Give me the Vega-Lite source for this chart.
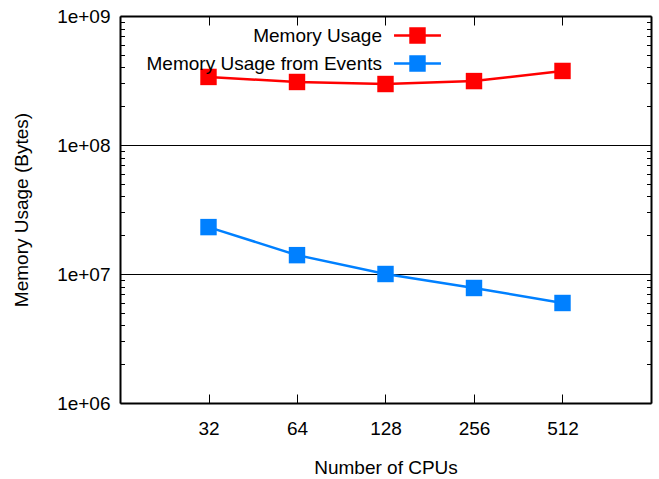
{
  "$schema": "https://vega.github.io/schema/vega-lite/v6.json",
  "width": 531,
  "height": 387,
  "autosize": {"type": "none"},
  "padding": {"left": 120, "top": 16, "right": 8, "bottom": 76},
  "background": "white",
  "config": {
    "view": {"stroke": null},
    "font": "Liberation Sans",
    "axis": {
      "domainColor": "black",
      "domainWidth": 2,
      "tickColor": "black",
      "tickWidth": 1,
      "labelColor": "black",
      "labelFont": "Liberation Sans",
      "labelFontSize": 19,
      "titleFont": "Liberation Sans",
      "titleFontSize": 19,
      "titleFontWeight": "normal",
      "titleColor": "black",
      "labelOverlap": false
    }
  },
  "data": {
    "values": [
      {"cpus": 32, "series": "Memory Usage", "bytes": 337000000},
      {"cpus": 64, "series": "Memory Usage", "bytes": 308000000},
      {"cpus": 128, "series": "Memory Usage", "bytes": 297000000},
      {"cpus": 256, "series": "Memory Usage", "bytes": 313000000},
      {"cpus": 512, "series": "Memory Usage", "bytes": 375000000},
      {"cpus": 32, "series": "Memory Usage from Events", "bytes": 23100000},
      {"cpus": 64, "series": "Memory Usage from Events", "bytes": 14000000},
      {"cpus": 128, "series": "Memory Usage from Events", "bytes": 10000000},
      {"cpus": 256, "series": "Memory Usage from Events", "bytes": 7790000},
      {"cpus": 512, "series": "Memory Usage from Events", "bytes": 5960000}
    ]
  },
  "layer": [
    {
      "encoding": {
        "x": {
          "field": "cpus",
          "type": "quantitative",
          "scale": {"type": "log", "base": 2, "domain": [16, 1024], "nice": false},
          "axis": {
            "orient": "bottom",
            "values": [32, 64, 128, 256, 512],
            "tickSize": -9,
            "labelPadding": 25,
            "grid": false,
            "title": "Number of CPUs",
            "titlePadding": 20
          }
        },
        "y": {
          "field": "bytes",
          "type": "quantitative",
          "scale": {"type": "log", "domain": [1000000, 1000000000], "nice": false},
          "axis": {
            "orient": "left",
            "values": [1000000, 2000000, 3000000, 4000000, 5000000, 6000000, 7000000, 8000000, 9000000, 10000000, 20000000, 30000000, 40000000, 50000000, 60000000, 70000000, 80000000, 90000000, 100000000, 200000000, 300000000, 400000000, 500000000, 600000000, 700000000, 800000000, 900000000, 1000000000],
            "labelExpr": "abs(log(datum.value)/LN10 - round(log(datum.value)/LN10)) < 0.001 ? '1e+0' + round(log(datum.value)/LN10) : ''",
            "tickSize": {"condition": {"test": "abs(log(datum.value)/LN10 - round(log(datum.value)/LN10)) < 0.001", "value": -9}, "value": -4.5},
            "labelPadding": 19,
            "grid": true,
            "gridColor": "black",
            "gridWidth": 1.2,
            "gridOpacity": {"condition": {"test": "datum.value > 5000000 && datum.value < 200000000 && abs(log(datum.value)/LN10 - round(log(datum.value)/LN10)) < 0.001", "value": 1}, "value": 0},
            "title": "Memory Usage (Bytes)",
            "titlePadding": 25
          }
        },
        "color": {
          "field": "series",
          "type": "nominal",
          "scale": {"domain": ["Memory Usage", "Memory Usage from Events"], "range": ["#ff0000", "#0080ff"]},
          "legend": {
            "title": null,
            "orient": "none",
            "legendX": 287.5,
            "legendY": 9.5,
            "padding": 0,
            "symbolType": "M-2.76,0H2.76M-0.82,-0.82H0.82V0.82H-0.82Z",
            "symbolSize": 289,
            "symbolStrokeWidth": 2,
            "rowPadding": 4,
            "labelAlign": "right",
            "labelOffset": -45.5,
            "labelFont": "Liberation Sans",
            "labelFontSize": 19,
            "labelColor": "black",
            "labelLimit": 400,
            "encode": {
              "symbols": {
                "update": {
                  "fill": {"scale": "color", "field": "value"},
                  "stroke": {"scale": "color", "field": "value"},
                  "strokeWidth": {"value": 2.5},
                  "opacity": {"value": 1}
                }
              }
            }
          }
        }
      },
      "layer": [
        {"mark": {"type": "line", "strokeWidth": 2.5}},
        {"mark": {"type": "point", "shape": "square", "filled": true, "size": 270, "opacity": 1}}
      ]
    },
    {
      "mark": {"type": "point", "opacity": 0},
      "encoding": {
        "x": {
          "field": "cpus",
          "type": "quantitative",
          "scale": {"type": "log", "base": 2, "domain": [16, 1024], "nice": false},
          "axis": {
            "orient": "top",
            "values": [32, 64, 128, 256, 512],
            "tickSize": -9,
            "labels": false,
            "grid": false,
            "title": null
          }
        },
        "y": {
          "field": "bytes",
          "type": "quantitative",
          "scale": {"type": "log", "domain": [1000000, 1000000000], "nice": false},
          "axis": {
            "orient": "right",
            "values": [1000000, 2000000, 3000000, 4000000, 5000000, 6000000, 7000000, 8000000, 9000000, 10000000, 20000000, 30000000, 40000000, 50000000, 60000000, 70000000, 80000000, 90000000, 100000000, 200000000, 300000000, 400000000, 500000000, 600000000, 700000000, 800000000, 900000000, 1000000000],
            "tickSize": {"condition": {"test": "abs(log(datum.value)/LN10 - round(log(datum.value)/LN10)) < 0.001", "value": -9}, "value": -4.5},
            "labels": false,
            "grid": false,
            "title": null
          }
        }
      }
    }
  ],
  "resolve": {"scale": {"x": "independent", "y": "independent"}}
}
